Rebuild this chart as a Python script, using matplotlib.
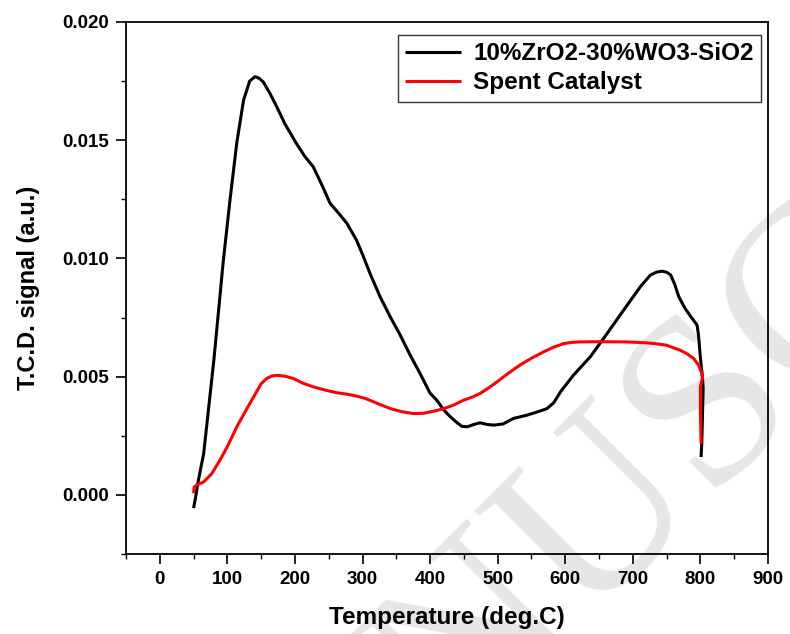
import matplotlib
matplotlib.use("Agg")
import matplotlib.pyplot as plt
from matplotlib.ticker import MultipleLocator, FormatStrFormatter

plt.rcParams['font.family'] = ['Liberation Sans', 'DejaVu Sans']
plt.rcParams['font.weight'] = 'bold'

# TPR profile of the fresh catalyst (temperature in deg.C, TCD signal in a.u.)
fresh_temp = [50, 53, 57, 65, 80, 94, 104, 114, 124, 133, 141, 147, 153, 163, 173,
              185, 202, 215, 227, 240, 252, 265, 277, 291, 301, 311, 326, 341, 355,
              370, 385, 400, 410, 420, 430, 440, 447, 455, 465, 474, 484, 494, 508,
              523, 543, 560, 573, 583, 593, 612, 637, 662, 686, 711, 726, 735, 743,
              750, 756, 762, 768, 777, 786, 792, 795, 797, 799, 801, 803, 804, 803,
              802, 801]
fresh_tcd = [-0.00056, -0.0001, 0.0006, 0.00176, 0.0057, 0.0099, 0.0125, 0.0149,
             0.0167, 0.0175, 0.01769, 0.01762, 0.01747, 0.01698, 0.01642, 0.0157,
             0.01487, 0.0143, 0.01388, 0.0131, 0.01233, 0.0119, 0.01148, 0.01078,
             0.0101, 0.00937, 0.00838, 0.00753, 0.0068, 0.00594, 0.00514, 0.0043,
             0.0040, 0.0036, 0.0033, 0.00305, 0.0029, 0.00288, 0.00298, 0.00305,
             0.00298, 0.00295, 0.0030, 0.00323, 0.00337, 0.00352, 0.00365, 0.0039,
             0.00436, 0.00506, 0.00584, 0.00683, 0.0078, 0.0088, 0.0093, 0.00942,
             0.00946, 0.00942, 0.0093, 0.0089, 0.00838, 0.0079, 0.00753, 0.0073,
             0.00718, 0.0068, 0.00612, 0.0055, 0.005, 0.0045, 0.0033, 0.0022, 0.0016]

# TPR profile of the spent catalyst
spent_temp = [50, 51, 55, 65, 77, 89, 101, 114, 126, 139, 150, 158, 166, 174, 185,
              198, 212, 227, 245, 262, 277, 291, 304, 316, 328, 341, 358, 375, 390,
              400, 410, 420, 435, 449, 462, 474, 487, 499, 516, 533, 550, 568, 583,
              598, 610, 622, 650, 690, 721, 738, 750, 760, 770, 780, 790, 797, 802,
              803, 800, 800, 801]
spent_tcd = [0.00007, 0.00034, 0.00042, 0.00055, 0.0009, 0.00147, 0.0021, 0.00288,
             0.0035, 0.00415, 0.0047, 0.00492, 0.00503, 0.00506, 0.00502, 0.00492,
             0.00472, 0.00457, 0.00443, 0.00432, 0.00426, 0.00418, 0.00408, 0.00394,
             0.0038, 0.00365, 0.00352, 0.00344, 0.00345, 0.00351, 0.00357, 0.00365,
             0.0038, 0.004, 0.00413, 0.00429, 0.00453, 0.00478, 0.00515, 0.00549,
             0.00578, 0.00605, 0.00625, 0.0064, 0.00645, 0.00647, 0.00648, 0.00647,
             0.00643, 0.00638, 0.00633, 0.00622, 0.00612, 0.00597, 0.00577, 0.0055,
             0.00514, 0.00495, 0.00457, 0.0035, 0.00217]

fresh_label = "10%ZrO2-30%WO3-SiO2"
spent_label = "Spent Catalyst"

fig = plt.figure(figsize=(7.9, 6.34), dpi=100)
ax = fig.add_axes([126 / 790, 1 - 554 / 634, 642 / 790, 532 / 634])
ax.patch.set_visible(False)

ax.plot(fresh_temp, fresh_tcd, color='black', lw=2.2, label=fresh_label,
        solid_joinstyle='round', solid_capstyle='butt', zorder=3)
ax.plot(spent_temp, spent_tcd, color='red', lw=2.2, label=spent_label,
        solid_joinstyle='round', solid_capstyle='butt', zorder=4)

ax.set_xlim(-50, 900)
ax.set_ylim(-0.0025, 0.020)
ax.xaxis.set_major_locator(MultipleLocator(100))
ax.xaxis.set_minor_locator(MultipleLocator(50))
ax.yaxis.set_major_locator(MultipleLocator(0.005))
ax.yaxis.set_minor_locator(MultipleLocator(0.0025))
ax.yaxis.set_major_formatter(FormatStrFormatter('%.3f'))

ax.tick_params(which='major', direction='out', length=7, width=1.2,
               labelsize=13.5, pad=5, top=False, right=False)
ax.tick_params(which='minor', direction='out', length=3.5, width=1.0,
               top=False, right=False)
for lab in ax.get_xticklabels() + ax.get_yticklabels():
    lab.set_fontweight('bold')
for sp in ax.spines.values():
    sp.set_linewidth(1.3)

ax.set_xlabel("Temperature (deg.C)", fontsize=17.5, fontweight='bold', labelpad=13)
ax.set_ylabel("T.C.D. signal (a.u.)", fontsize=17, fontweight='bold', labelpad=16)

leg = ax.legend(loc='upper right', bbox_to_anchor=(0.989, 0.9756), borderaxespad=0,
                prop={'weight': 'bold', 'size': 17.5}, frameon=True,
                fancybox=False, handlelength=2.3, handletextpad=0.5,
                borderpad=0.3, labelspacing=0.25)
leg.get_frame().set_edgecolor('#333333')
leg.get_frame().set_linewidth(1.0)
leg.get_frame().set_alpha(1)

# Diagonal watermark behind the plot
fig.text(0.878, 0.325, "MANUSCRIPT", fontsize=175, family='Liberation Serif',
         color='#e6e6e6', rotation=45, ha='center', va='center',
         rotation_mode='anchor', zorder=-1, fontweight='normal')

fig.savefig("out.png", dpi=100, facecolor='white')
